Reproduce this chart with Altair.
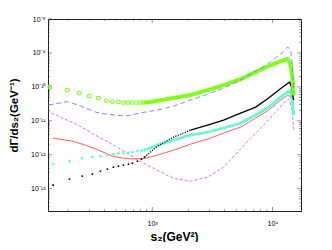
import altair as alt
import pandas as pd

# ---------------- data ----------------
# green open circles (sparse markers on the left, dense band on the right)
S_GREEN_MARK = [141, 197, 248, 300, 357, 416, 467, 524, 577, 630, 685, 740, 799, 846]
V_GREEN_MARK = [9.9e-11, 8.05e-11, 6.56e-11, 5.36e-11, 4.67e-11, 3.94e-11, 3.68e-11,
                3.56e-11, 3.44e-11, 3.44e-11, 3.44e-11, 3.44e-11, 3.44e-11, 3.44e-11]
S_GREEN_BAND = [846, 968, 1505, 2084, 2891, 3927, 5445, 7261, 9311, 11720, 12900, 13410,
                14210, 14760, 15050]
V_GREEN_BAND = [3.44e-11, 3.6e-11, 4.67e-11, 5.73e-11, 8.05e-11, 1.13e-10, 1.70e-10,
                2.73e-10, 4.11e-10, 5.77e-10, 6.4e-10, 6.6e-10, 4.4e-10, 1.59e-10, 5.73e-11]

# cyan asterisks
S_CB_MARK = [150, 205, 262, 318, 371, 424, 476, 524, 577, 635, 685, 754, 814, 862]
V_CYAN_MARK = [5.28e-13, 6.47e-13, 7.9e-13, 8.5e-13, 9.1e-13, 9.7e-13, 1.04e-12,
               1.11e-12, 1.11e-12, 1.15e-12, 1.19e-12, 1.28e-12, 1.33e-12, 1.37e-12]
S_CYAN_BAND = [862, 1107, 1505, 2084, 2891, 3927, 5445, 7261, 9311, 11720, 13410, 13940,
               14490, 14760, 15050]
V_CYAN_BAND = [1.37e-12, 1.92e-12, 2.70e-12, 3.79e-12, 4.64e-12, 6.09e-12, 8.55e-12,
               1.47e-11, 2.54e-11, 5.0e-11, 7.0e-11, 7.5e-11, 5.0e-11, 2.9e-11, 1.47e-11]

# black dots (sparse, then a dotted stretch, then a solid-looking line)
V_BLACK_MARK = [1.27e-13, 1.91e-13, 2.34e-13, 2.68e-13, 3.28e-13, 3.76e-13, 4.31e-13,
                4.61e-13, 4.93e-13, 5.28e-13, 5.65e-13, 6.47e-13, 7.4e-13, 8.5e-13]
S_BLACK_DOT = [862, 1107, 1505, 2084]
V_BLACK_DOT = [8.5e-13, 1.79e-12, 3.3e-12, 5.32e-12]
S_BLACK_LINE = [2084, 2891, 3927, 5445, 7261, 9311, 12190, 13940, 14490, 14760, 15050]
V_BLACK_LINE = [5.32e-12, 7.46e-12, 1.05e-11, 1.69e-11, 2.54e-11, 4.67e-11, 9.9e-11,
                1.39e-10, 9.2e-11, 5.73e-11, 4.08e-11]

# blue dashed
S_BLUE = [137, 197, 243, 337, 408, 599, 879, 1107, 1505, 2084, 2891, 3927, 5445, 7261,
          9311, 11720, 13410, 14210, 14760, 15050]
V_BLUE = [2.9e-11, 3.68e-11, 2.9e-11, 1.81e-11, 1.58e-11, 1.38e-11, 1.81e-11, 2.07e-11,
          2.71e-11, 4.08e-11, 6.13e-11, 9.2e-11, 1.59e-10, 2.92e-10, 5.0e-10, 9.3e-10,
          1.49e-9, 1.22e-9, 3.13e-10, 7.0e-11]

# red solid
S_RED = [150, 217, 278, 357, 467, 599, 726, 879, 1107, 1505, 2084, 2891, 3927, 5445,
         7261, 9311, 11720, 13410, 14210, 14760, 15050]
V_RED = [3.09e-12, 2.52e-12, 1.92e-12, 1.37e-12, 9.1e-13, 7.7e-13, 7.5e-13, 7.9e-13,
         9.7e-13, 1.37e-12, 2.06e-12, 2.88e-12, 4.34e-12, 6.52e-12, 1.2e-11, 2.07e-11,
         4.08e-11, 5.73e-11, 5.0e-11, 2.9e-11, 1.81e-11]

# magenta dashed
S_MAG = [145, 243, 337, 449, 599, 769, 846, 1107, 1505, 2084, 2891, 3927, 5140, 6590,
         8300, 10660, 12420, 13680, 14490, 14760, 15050]
V_MAG = [1.69e-11, 7.46e-12, 3.79e-12, 2.20e-12, 1.19e-12, 6.93e-13, 5.65e-13, 3.51e-13,
         2.0e-13, 1.66e-13, 2.18e-13, 4.31e-13, 1.19e-12, 3.09e-12, 6.98e-12, 1.81e-11,
         3.33e-11, 4.37e-11, 2.37e-11, 1.2e-11, 5.3e-12]

# axes
X_DOMAIN = [136, 17300]
Y_DOMAIN = [2.2e-14, 1e-8]
X_MAJOR = [1000, 10000]
X_LABELS = ["10³", "10⁴"]
X_MINOR = [k * 100 for k in range(2, 10)] + [k * 1000 for k in range(2, 10)]
Y_MAJOR = [1e-13, 1e-12, 1e-11, 1e-10, 1e-9, 1e-8]
Y_LABELS = ["10⁻¹³", "10⁻¹²", "10⁻¹¹", "10⁻¹⁰", "10⁻⁹", "10⁻⁸"]
Y_MINOR = [k * 10.0 ** e for e in range(-14, -8) for k in range(2, 10)
           if k * 10.0 ** e >= Y_DOMAIN[0]]

W, H = 253, 192
FONT = "Liberation Sans"


def df(s, v):
    return pd.DataFrame({"s": s, "v": v})


xlab = "[" + ",".join(f"'{t}'" for t in X_LABELS) + "][round(log(datum.value)/LN10)-3]"
ylab = "[" + ",".join(f"'{t}'" for t in Y_LABELS) + "][round(log(datum.value)/LN10)+13]"

X = alt.X("s:Q",
          scale=alt.Scale(type="log", domain=X_DOMAIN, nice=False),
          axis=alt.Axis(values=X_MAJOR, labelExpr=xlab, ticks=False, domain=False,
                        grid=False, labelFontSize=7, labelPadding=8, labelFont=FONT,
                        labelColor="black",
                        title="s₂(GeV²)", titleFont=FONT, titleFontSize=12,
                        titleFontWeight="bold", titleX=126, titleY=25,
                        titleBaseline="middle", titleAlign="center", titleColor="black"))
Y = alt.Y("v:Q",
          scale=alt.Scale(type="log", domain=Y_DOMAIN, nice=False),
          axis=alt.Axis(values=Y_MAJOR, labelExpr=ylab, ticks=False, domain=False,
                        grid=False, labelFontSize=7, labelPadding=3, labelFont=FONT,
                        labelColor="black",
                        title="dΓ/ds₂(GeV⁻¹)", titleFont=FONT, titleFontSize=11.5,
                        titleFontWeight="bold", titleX=-34, titleY=H / 2,
                        titleAngle=270, titleBaseline="middle", titleAlign="center",
                        titleColor="black"))

layers = []

# ticks (inward, on all four sides)
xt_major = alt.Chart(df(X_MAJOR, [1e-10] * len(X_MAJOR)))
xt_minor = alt.Chart(df(X_MINOR, [1e-10] * len(X_MINOR)))
yt_major = alt.Chart(df([1000] * len(Y_MAJOR), Y_MAJOR))
yt_minor = alt.Chart(df([1000] * len(Y_MINOR), Y_MINOR))
for ypix in (H - 2, 2):
    layers.append(xt_major.mark_tick(orient="vertical", size=4, thickness=0.7,
                                     color="#333").encode(x=X, y=alt.value(ypix)))
for ypix in (H - 1, 1):
    layers.append(xt_minor.mark_tick(orient="vertical", size=2, thickness=0.6,
                                     color="#333").encode(x=X, y=alt.value(ypix)))
for xpix in (2, W - 2):
    layers.append(yt_major.mark_tick(orient="horizontal", size=4, thickness=0.7,
                                     color="#333").encode(y=Y, x=alt.value(xpix)))
for xpix in (1, W - 1):
    layers.append(yt_minor.mark_tick(orient="horizontal", size=2, thickness=0.6,
                                     color="#333").encode(y=Y, x=alt.value(xpix)))

GREEN = "#80ff1a"
CYAN = "#73f5d2"
BLUE = "#6a80ff"
RED = "#ff4d4d"
MAG = "#c966ff"

# magenta dashed
layers.append(alt.Chart(df(S_MAG, V_MAG)).mark_line(color=MAG, strokeWidth=0.9,
                                                     strokeDash=[3, 2]).encode(x=X, y=Y))
# red
layers.append(alt.Chart(df(S_RED, V_RED)).mark_line(color=RED, strokeWidth=0.9).encode(x=X, y=Y))
# cyan band + asterisks
layers.append(alt.Chart(df(S_CYAN_BAND, V_CYAN_BAND)).mark_line(
    color=CYAN, strokeWidth=3).encode(x=X, y=Y))
ASTER = "M-1,0L1,0M0,-1L0,1M-0.7,-0.7L0.7,0.7M-0.7,0.7L0.7,-0.7"
layers.append(alt.Chart(df(S_CB_MARK, V_CYAN_MARK)).mark_point(
    shape=ASTER, filled=False, size=9, strokeWidth=0.9, color=CYAN, opacity=1).encode(x=X, y=Y))
# black
layers.append(alt.Chart(df(S_BLACK_DOT, V_BLACK_DOT)).mark_line(
    color="black", strokeWidth=1.2, strokeDash=[1.2, 1.3]).encode(x=X, y=Y))
layers.append(alt.Chart(df(S_BLACK_LINE, V_BLACK_LINE)).mark_line(
    color="black", strokeWidth=1.3).encode(x=X, y=Y))
layers.append(alt.Chart(df(S_CB_MARK, V_BLACK_MARK)).mark_point(
    shape="square", filled=True, size=2.5, color="black", opacity=1).encode(x=X, y=Y))
# green band + circles
layers.append(alt.Chart(df(S_GREEN_BAND, V_GREEN_BAND)).mark_line(
    color=GREEN, strokeWidth=4).encode(x=X, y=Y))
layers.append(alt.Chart(df(S_GREEN_MARK, V_GREEN_MARK)).mark_point(
    shape="circle", filled=False, size=14, strokeWidth=1.1, color=GREEN, opacity=1).encode(x=X, y=Y))
# blue dashed
layers.append(alt.Chart(df(S_BLUE, V_BLUE)).mark_line(color=BLUE, strokeWidth=0.9,
                                                       strokeDash=[5, 3]).encode(x=X, y=Y))

chart = alt.layer(*layers).properties(
    width=W, height=H,
    autosize=alt.AutoSizeParams(type="none"),
    padding={"left": 40, "top": 11, "right": 15, "bottom": 31},
    background="white",
).configure_view(stroke="#222", strokeWidth=1)

chart.save("out.html", embed_options={"renderer": "svg", "actions": False})
